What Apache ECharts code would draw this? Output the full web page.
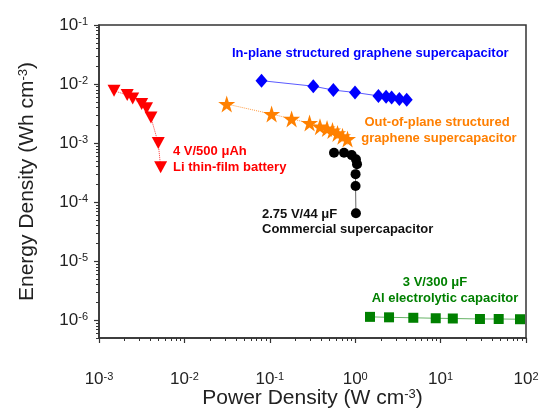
<!DOCTYPE html>
<html>
<head>
<meta charset="utf-8">
<script src="https://cdn.jsdelivr.net/npm/echarts@6/dist/echarts.min.js"></script>
<style>
  html, body { margin: 0; background: #fff; }
  #main { width: 540px; height: 411px; }
</style>
</head>
<body>
<div id="main"></div>
<script>
// decade tick labels (powers of ten)
const xDecades = [1e-3, 1e-2, 1e-1, 1, 10, 100]
const yDecades = [1e-6, 1e-5, 1e-4, 1e-3, 1e-2, 1e-1]

// Li thin-film battery
const liPower = [0.0015, 0.00214, 0.00248, 0.00316, 0.0036, 0.00406, 0.00494, 0.00527]
const liEnergy = [0.0077, 0.0065, 0.0057, 0.0046, 0.0039, 0.0027, 0.0010, 0.00039]
// in-plane graphene
const inPlanePower = [0.080, 0.323, 0.555, 0.995, 1.87, 2.30, 2.67, 3.29, 4.01]
const inPlaneEnergy = [0.0114, 0.0092, 0.0079, 0.0072, 0.0063, 0.0061, 0.0059, 0.0056, 0.0054]
// out-of-plane graphene
const outPlanePower = [0.0313, 0.105, 0.180, 0.292, 0.387, 0.468, 0.542, 0.621, 0.710, 0.813]
const outPlaneEnergy = [0.00458, 0.00310, 0.00257, 0.00218, 0.00190, 0.00176, 0.00163, 0.00146, 0.00130, 0.00117]
// commercial supercapacitor
const commPower = [0.565, 0.740, 0.91, 1.02, 1.05, 1.01, 1.01, 1.02]
const commEnergy = [0.000685, 0.000685, 0.000626, 0.000530, 0.000440, 0.000298, 0.000187, 0.000065]
// Al electrolytic capacitor
const alPower = [1.49, 2.49, 4.79, 8.77, 13.9, 28.9, 47.9, 85.1]
const alEnergy = [1.14e-6, 1.12e-6, 1.10e-6, 1.08e-6, 1.07e-6, 1.05e-6, 1.05e-6, 1.04e-6]

const FONT = '"Liberation Sans", Arial, sans-serif'
const AXIS = '#333'
const STAR = 'path://M50,0L61.2,34.5L97.6,34.5L68.2,55.9L79.4,90.5L50,69.1L20.6,90.5L31.8,55.9L2.4,34.5L38.8,34.5Z'

// both axes are log10 scales: positions are exponents
const lg = Math.log10
const xMin = lg(1e-3), xMax = lg(100), yMin = lg(5e-7), yMax = lg(0.1)

function minorTicks (min, max) {
  const out = []
  for (let e = -8; e <= 3; e++) {
    for (let k = 2; k <= 9; k++) {
      const v = lg(k) + e
      if (v > min - 1e-6 && v < max + 1e-6) out.push(v)
    }
  }
  return out
}

const pairs = (xs, ys) => xs.map((x, i) => [lg(x), lg(ys[i])])

const labelRich = {
  b: { fontSize: 17, fontFamily: FONT, color: '#222' },
  s: { fontSize: 11, fontFamily: FONT, color: '#222', verticalAlign: 'top' }
}
const expLabel = v => '{b|10}{s|' + Math.round(v) + '}'
const nameRich = {
  t: { fontSize: 21, fontFamily: FONT, color: '#222' },
  u: { fontSize: 13, fontFamily: FONT, color: '#222', verticalAlign: 'top' }
}

const option = {
  animation: false,
  grid: {
    left: 99, right: 14, top: 25, bottom: 73,
    outerBoundsMode: 'none',
    show: true, borderColor: AXIS, borderWidth: 1.5
  },
  xAxis: [
    {
      type: 'value', min: xMin, max: xMax,
      name: '{t|Power Density (W cm}{u|-3}{t|)}',
      nameLocation: 'middle', nameGap: 50, nameMoveOverlap: false,
      nameTextStyle: { rich: nameRich },
      axisLine: { show: true, onZero: false, lineStyle: { color: AXIS, width: 1.5 } },
      axisTick: { show: true, customValues: xDecades.map(lg), length: 5, lineStyle: { color: AXIS, width: 1.2 } },
      axisLabel: { customValues: xDecades.map(lg), margin: 33, formatter: expLabel, rich: labelRich },
      splitLine: { show: false }
    },
    {
      type: 'value', min: xMin, max: xMax, position: 'bottom',
      axisLine: { show: false, onZero: false },
      axisTick: { show: true, customValues: minorTicks(xMin, xMax), length: 3, lineStyle: { color: AXIS, width: 1 } },
      axisLabel: { show: false },
      splitLine: { show: false }
    }
  ],
  yAxis: [
    {
      type: 'value', min: yMin, max: yMax,
      name: '{t|Energy Density (Wh cm}{u|-3}{t|)}',
      nameLocation: 'middle', nameGap: 61, nameMoveOverlap: false,
      nameTextStyle: { rich: nameRich },
      axisLine: { show: true, onZero: false, lineStyle: { color: AXIS, width: 1.5 } },
      axisTick: { show: true, customValues: yDecades.map(lg), length: 5, lineStyle: { color: AXIS, width: 1.2 } },
      axisLabel: { customValues: yDecades.map(lg), margin: 11, formatter: expLabel, rich: labelRich },
      splitLine: { show: false }
    },
    {
      type: 'value', min: yMin, max: yMax, position: 'left',
      axisLine: { show: false, onZero: false },
      axisTick: { show: true, customValues: minorTicks(yMin, yMax), length: 3, lineStyle: { color: AXIS, width: 1 } },
      axisLabel: { show: false },
      splitLine: { show: false }
    }
  ],
  series: [
    {
      name: 'Li thin-film battery', type: 'line', data: pairs(liPower, liEnergy),
      symbol: 'triangle', symbolRotate: 180, symbolSize: [13, 12],
      itemStyle: { color: '#ff0000' },
      lineStyle: { color: '#ff3030', width: 1, type: 'dotted' }
    },
    {
      name: 'In-plane', type: 'line', data: pairs(inPlanePower, inPlaneEnergy),
      symbol: 'diamond', symbolSize: [12, 14],
      itemStyle: { color: '#0000ff' },
      lineStyle: { color: '#5a5aff', width: 1 }
    },
    {
      name: 'Out-of-plane', type: 'line', data: pairs(outPlanePower, outPlaneEnergy),
      symbol: STAR, symbolSize: 17,
      itemStyle: { color: '#ff8000' },
      lineStyle: { color: '#ff9a40', width: 1, type: 'dotted' }
    },
    {
      name: 'Commercial', type: 'line', data: pairs(commPower, commEnergy),
      symbol: 'circle', symbolSize: 10,
      itemStyle: { color: '#000' },
      lineStyle: { color: '#666', width: 1 }
    },
    {
      name: 'Al electrolytic', type: 'line', data: pairs(alPower, alEnergy),
      symbol: 'rect', symbolSize: 10,
      itemStyle: { color: '#008000' },
      lineStyle: { color: '#66b366', width: 1 }
    }
  ],
  graphic: [
    { type: 'text', x: 232, y: 53, style: { text: 'In-plane structured graphene supercapacitor', fill: '#0000ff', font: 'bold 13px ' + FONT, textVerticalAlign: 'middle' } },
    { type: 'text', x: 437, y: 122, style: { text: 'Out-of-plane structured', fill: '#ff7f00', font: 'bold 13px ' + FONT, textAlign: 'center', textVerticalAlign: 'middle' } },
    { type: 'text', x: 439, y: 138.5, style: { text: 'graphene supercapacitor', fill: '#ff7f00', font: 'bold 13px ' + FONT, textAlign: 'center', textVerticalAlign: 'middle' } },
    { type: 'text', x: 173, y: 151, style: { text: '4 V/500 μAh', fill: '#ff0000', font: 'bold 13px ' + FONT, textVerticalAlign: 'middle' } },
    { type: 'text', x: 173, y: 167.5, style: { text: 'Li thin-film battery', fill: '#ff0000', font: 'bold 13px ' + FONT, textVerticalAlign: 'middle' } },
    { type: 'text', x: 262, y: 214.5, style: { text: '2.75 V/44 μF', fill: '#111', font: 'bold 13px ' + FONT, textVerticalAlign: 'middle' } },
    { type: 'text', x: 262, y: 229.5, style: { text: 'Commercial supercapacitor', fill: '#111', font: 'bold 13px ' + FONT, textVerticalAlign: 'middle' } },
    { type: 'text', x: 435, y: 282, style: { text: '3 V/300 μF', fill: '#008000', font: 'bold 13px ' + FONT, textAlign: 'center', textVerticalAlign: 'middle' } },
    { type: 'text', x: 445, y: 298.5, style: { text: 'Al electrolytic capacitor', fill: '#008000', font: 'bold 13px ' + FONT, textAlign: 'center', textVerticalAlign: 'middle' } }
  ]
}

const chart = echarts.init(document.getElementById('main'))
chart.setOption(option)
</script>
</body>
</html>
